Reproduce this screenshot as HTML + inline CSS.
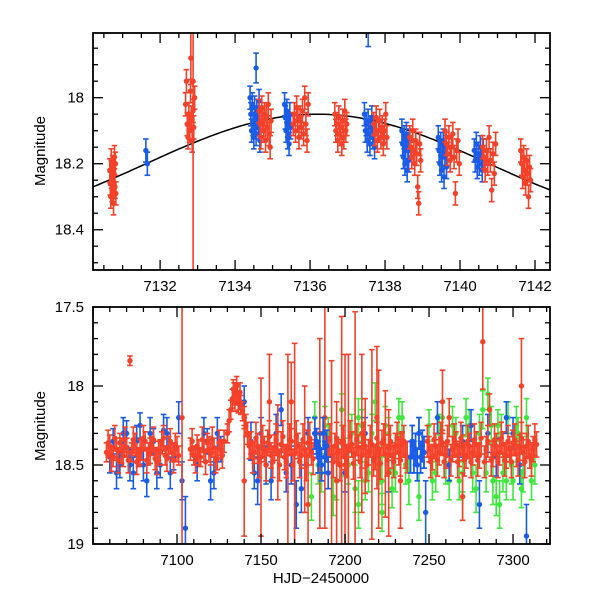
<!DOCTYPE html>
<html><head><meta charset="utf-8"><style>
body{margin:0;background:#fff}
svg{display:block;font-family:"Liberation Sans",sans-serif}
</style></head><body>
<svg id="c" width="600" height="600"></svg>
<script>
// ---- top panel data: [color, tStart, tEnd, mags]
const topClusters = [
 ['r',7130.66,7130.82,[18.22,18.26,18.30,18.19,18.24,18.28,18.21,18.25,18.32,18.23,18.18,18.27,18.20,18.29]],
 ['b',7131.62,7131.66,[18.16,18.20]],
 ['r',7132.68,7132.92,[18.02,17.95,18.08,18.12,18.05,18.10,17.98,18.06,18.13,18.04,18.09,18.00]],
 ['b',7134.40,7134.66,[18.00,18.05,18.10,18.02,18.08,18.12,18.03,18.07,18.11,18.04,18.06,18.09,18.01,18.13]],
 ['b',7134.56,7134.56,[17.91]],
 ['r',7134.64,7134.96,[18.04,18.08,18.12,18.03,18.07,18.10,18.05,18.13,18.06,18.09,18.02,18.11,18.15,18.07]],
 ['b',7135.32,7135.48,[18.02,18.06,18.10,18.04,18.12,18.08,18.14,18.05,18.09]],
 ['r',7135.55,7135.95,[18.08,18.05,18.10,18.03,18.07,18.12,18.06,18.09,18.04,18.11,18.00,18.08,18.13,18.02]],
 ['r',7136.66,7136.98,[18.05,18.10,18.08,18.13,18.06,18.11,18.09,18.14,18.07,18.12,18.04,18.10,18.08]],
 ['b',7137.45,7137.72,[18.05,18.10,18.08,18.13,18.07,18.11,18.14,18.09,18.06,18.12,18.10,18.15]],
 ['b',7137.55,7137.55,[17.80]],
 ['r',7137.70,7138.05,[18.08,18.11,18.06,18.13,18.10,18.07,18.12,18.09,18.14,18.10,18.05,18.12]],
 ['b',7138.45,7138.65,[18.10,18.14,18.18,18.12,18.20,18.16,18.11,18.22,18.15,18.19,18.13]],
 ['r',7138.66,7138.95,[18.12,18.15,18.18,18.10,18.16,18.20,18.13,18.17,18.27,18.32,18.14,18.19]],
 ['b',7139.42,7139.64,[18.12,18.16,18.20,18.14,18.22,18.18,18.13,18.24,18.17,18.15,18.21]],
 ['r',7139.60,7139.98,[18.10,18.14,18.17,18.12,18.19,18.15,18.11,18.18,18.29,18.16,18.13,18.20]],
 ['b',7140.38,7140.62,[18.16,18.19,18.14,18.21,18.17,18.20,18.15,18.18,18.22,18.16]],
 ['r',7140.60,7140.95,[18.15,18.18,18.22,18.16,18.20,18.12,18.19,18.28,18.17,18.23,18.14]],
 ['r',7141.62,7141.88,[18.16,18.20,18.24,18.18,18.22,18.26,18.19,18.23,18.30,18.21,18.25]]
];
const curvePeakT = 7136.2, curvePeakM = 18.05, curveAmp = 0.15, curvePeriod = 18.3;

// ---- bottom panel data: [t, mag, err]
const bGreen = [[7182,18.2,0.1],[7184,18.5,0.12],[7186,18.55,0.12],[7188,18.25,0.12],[7190,18.3,0.1],[7193,18.7,0.12],[7195,18.6,0.12],[7198,18.15,0.1],[7200,18.45,0.12],[7202,18.5,0.12],[7204,18.3,0.12],[7206,18.65,0.15],[7208,18.2,0.12],[7210,18.25,0.1],[7212,18.6,0.12],[7214,18.55,0.12],[7216,18.3,0.12],[7218,18.1,0.12],[7220,18.5,0.12],[7222,18.6,0.15],[7224,18.25,0.12],[7226,18.3,0.1],[7228,18.65,0.12],[7230,18.55,0.12],[7232,18.2,0.12],[7234,18.2,0.1],[7236,18.5,0.12],[7238,18.6,0.15],[7250,18.25,0.1],[7252,18.6,0.12],[7254,18.55,0.12],[7256,18.3,0.12],[7258,18.2,0.1],[7260,18.5,0.12],[7262,18.6,0.12],[7264,18.25,0.12],[7266,18.3,0.1],[7268,18.6,0.12],[7270,18.55,0.12],[7272,18.2,0.12],[7274,18.25,0.1],[7276,18.55,0.12],[7278,18.65,0.15],[7280,18.3,0.12],[7282,18.15,0.12],[7284,18.55,0.12],[7285,18.05,0.1],[7287,18.25,0.12],[7288,18.6,0.15],[7290,18.7,0.12],[7291,18.25,0.1],[7293,18.3,0.12],[7294,18.55,0.12],[7296,18.6,0.12],[7297,18.2,0.1],[7299,18.5,0.12],[7300,18.6,0.12],[7302,18.25,0.12],[7303,18.3,0.1],[7305,18.65,0.12],[7306,18.55,0.12],[7308,18.2,0.12],[7309,18.35,0.1],[7311,18.6,0.12],[7313,18.5,0.12],[7180,18.7,0.15],[7208,18.75,0.15],[7244,18.7,0.15],[7292,18.75,0.15],[7270,18.7,0.15],[7222,18.8,0.12]];
const bBlue = [[7060,18.45,0.1],[7062,18.35,0.08],[7064,18.55,0.1],[7066,18.5,0.08],[7068,18.3,0.1],[7070,18.3,0.08],[7072,18.5,0.1],[7074,18.55,0.1],[7076,18.35,0.1],[7078,18.25,0.08],[7080,18.5,0.1],[7082,18.6,0.1],[7084,18.3,0.1],[7086,18.35,0.08],[7088,18.55,0.1],[7090,18.5,0.08],[7092,18.28,0.1],[7094,18.3,0.1],[7096,18.55,0.1],[7098,18.45,0.08],[7101,18.2,0.1],[7103,18.6,0.12],[7105,18.9,0.2],[7112,18.5,0.1],[7116,18.3,0.1],[7118,18.35,0.08],[7120,18.6,0.12],[7122,18.55,0.1],[7124,18.3,0.1],[7126,18.4,0.08],[7140,18.1,0.1],[7144,18.35,0.12],[7146,18.55,0.1],[7148,18.6,0.15],[7150,18.3,0.1],[7153,18.5,0.12],[7156,18.6,0.12],[7159,18.3,0.12],[7162,18.15,0.1],[7165,18.55,0.12],[7168,18.5,0.12],[7171,18.75,0.15],[7174,18.65,0.15],[7178,18.3,0.1],
 [7182,18.3,0.1],[7183,18.35,0.08],[7184,18.45,0.1],[7185,18.4,0.1],[7186,18.5,0.1],[7187,18.3,0.1],[7188,18.45,0.1],[7189,18.38,0.1],[7190,18.55,0.1],[7200,18.55,0.12],[7212,18.3,0.1],[7226,18.55,0.12],
 [7239,18.45,0.1],[7240,18.35,0.1],[7241,18.45,0.1],[7242,18.4,0.1],[7243,18.5,0.1],[7244,18.3,0.1],[7245,18.45,0.1],[7246,18.38,0.1],[7247,18.42,0.1],[7248,18.8,0.2],[7255,18.2,0.1],[7262,18.5,0.1],[7270,18.35,0.1],[7275,18.25,0.1],[7280,18.75,0.15],[7285,18.3,0.12],[7290,18.45,0.12],[7296,18.2,0.1],[7300,18.3,0.1],[7304,18.5,0.12],[7308,18.95,0.2]];
const bRed = [[7058,18.42,0.06],[7060,18.38,0.07],[7062,18.45,0.06],[7064,18.40,0.07],[7066,18.36,0.06],[7068,18.44,0.07],[7070,18.39,0.06],[7072,17.84,0.03],[7073,18.42,0.06],[7075,18.37,0.07],[7077,18.45,0.06],[7079,18.40,0.07],[7081,18.35,0.06],[7083,18.43,0.07],[7085,18.38,0.06],[7087,18.46,0.07],[7089,18.41,0.06],[7091,18.36,0.07],[7093,18.44,0.06],[7095,18.39,0.07],[7097,18.42,0.06],[7099,18.37,0.07],[7101,18.44,0.06],[7103,18.2,0.9],[7108,18.40,0.07],[7110,18.44,0.06],[7112,18.38,0.07],[7114,18.45,0.06],[7116,18.41,0.07],[7118,18.36,0.06],[7120,18.43,0.07],[7122,18.39,0.06],[7124,18.46,0.07],[7126,18.40,0.06],[7128,18.35,0.07],[7130,18.30,0.06],[7131,18.22,0.07],[7132,18.15,0.06],[7133,18.08,0.06],[7134,18.04,0.06],[7135,18.06,0.06],[7136,18.05,0.06],[7137,18.09,0.06],[7138,18.12,0.06],[7139,18.16,0.06],[7140,18.20,0.07],[7141,18.25,0.07],[7142,18.30,0.07],[7144,18.36,0.07],[7146,18.42,0.07],[7148,18.38,0.08],[7150,18.45,0.5],[7152,18.40,0.08],[7154,18.36,0.08],[7156,18.44,0.08],[7158,18.39,0.08],[7160,18.42,0.3],[7162,18.37,0.08],[7164,18.45,0.08],[7166,18.40,0.6],[7168,18.35,0.08],[7170,18.43,0.7],[7172,18.38,0.08],[7174,18.44,0.08],[7176,18.40,0.4],[7178,18.36,0.08],[7180,18.42,0.08],[7190,18.40,0.08],[7192,18.44,0.6],[7194,18.38,0.08],[7196,18.42,0.08],[7198,18.36,0.8],[7200,18.45,0.08],[7202,18.40,0.6],[7204,18.37,0.08],[7206,18.43,0.9],[7208,18.39,0.08],[7210,18.44,0.08],[7212,18.38,0.3],[7214,18.42,0.08],[7216,18.37,0.6],[7218,18.45,0.08],[7220,18.40,0.5],[7222,18.36,0.08],[7224,18.43,0.4],[7226,18.39,0.08],[7228,18.44,0.08],[7230,18.38,0.08],[7232,18.42,0.08],[7234,18.37,0.08],[7236,18.44,0.08],[7250,18.40,0.08],[7252,18.45,0.08],[7254,18.38,0.08],[7256,18.42,0.08],[7258,18.36,0.08],[7260,18.44,0.08],[7262,18.20,0.12],[7264,18.40,0.08],[7266,18.37,0.08],[7268,18.43,0.08],[7270,18.39,0.08],[7272,18.44,0.08],[7274,18.38,0.08],[7276,18.42,0.08],[7278,18.37,0.08],[7280,18.44,0.08],[7282,17.72,0.3],[7284,18.40,0.08],[7286,18.15,0.1],[7288,18.43,0.08],[7290,18.38,0.08],[7292,18.42,0.08],[7294,18.37,0.08],[7296,18.44,0.08],[7298,18.40,0.08],[7300,18.36,0.08],[7302,18.43,0.08],[7304,18.39,0.08],[7306,18.42,0.08],[7308,18.38,0.08],[7310,18.44,0.08],[7312,18.40,0.08],[7314,18.37,0.08]];
const bRed2 = [[7059,18.36,0.08],[7061,18.46,0.08],[7063,18.33,0.08],[7065,18.47,0.08],[7067,18.41,0.08],[7069,18.34,0.08],[7071,18.47,0.08],[7074,18.34,0.08],[7076,18.48,0.08],[7078,18.42,0.08],[7080,18.33,0.08],[7082,18.47,0.08],[7084,18.41,0.08],[7086,18.34,0.08],[7088,18.48,0.08],[7090,18.42,0.08],[7092,18.33,0.08],[7094,18.46,0.08],[7096,18.35,0.08],[7098,18.47,0.08],[7100,18.40,0.08],[7109,18.35,0.08],[7111,18.47,0.08],[7113,18.42,0.08],[7115,18.34,0.08],[7117,18.48,0.08],[7119,18.40,0.08],[7121,18.34,0.08],[7123,18.47,0.08],[7125,18.36,0.08],[7127,18.44,0.08],[7133.5,18.02,0.06],[7134.5,18.10,0.06],[7135.5,18.00,0.06],[7136.5,18.11,0.06],[7137.5,18.04,0.06],[7143,18.38,0.08],[7145,18.45,0.1],[7147,18.33,0.1],[7149,18.48,0.1],[7151,18.35,0.1],[7153,18.5,0.1],[7155,18.32,0.1],[7157,18.48,0.1],[7159,18.34,0.1],[7161,18.5,0.1],[7163,18.32,0.1],[7165,18.48,0.1],[7167,18.34,0.1],[7169,18.5,0.1],[7171,18.32,0.1],[7173,18.48,0.1],[7175,18.34,0.1],[7177,18.5,0.1],[7179,18.33,0.1],[7181,18.46,0.1],[7191,18.34,0.1],[7193,18.48,0.1],[7195,18.33,0.1],[7197,18.5,0.1],[7199,18.35,0.1],[7201,18.48,0.1],[7203,18.32,0.1],[7205,18.49,0.1],[7207,18.34,0.1],[7209,18.48,0.1],[7211,18.33,0.1],[7213,18.5,0.1],[7215,18.35,0.1],[7217,18.47,0.1],[7219,18.33,0.1],[7221,18.49,0.1],[7223,18.34,0.1],[7225,18.47,0.1],[7227,18.35,0.1],[7229,18.48,0.1],[7231,18.33,0.1],[7233,18.47,0.1],[7235,18.35,0.1],[7237,18.45,0.1],[7249,18.35,0.1],[7251,18.48,0.1],[7253,18.34,0.1],[7255,18.47,0.1],[7257,18.33,0.1],[7259,18.48,0.1],[7261,18.35,0.1],[7263,18.47,0.1],[7265,18.34,0.1],[7267,18.48,0.1],[7269,18.33,0.1],[7271,18.47,0.1],[7273,18.35,0.1],[7275,18.48,0.1],[7277,18.34,0.1],[7279,18.47,0.1],[7281,18.33,0.1],[7283,18.48,0.1],[7285,18.35,0.1],[7287,18.47,0.1],[7289,18.34,0.1],[7291,18.48,0.1],[7293,18.33,0.1],[7295,18.47,0.1],[7297,18.35,0.1],[7299,18.48,0.1],[7301,18.34,0.1],[7303,18.47,0.1],[7305,18.33,0.1],[7307,18.48,0.1],[7309,18.35,0.1],[7311,18.47,0.1],[7313,18.34,0.1],
 [7168,18.1,0.25],[7185,18.3,0.6],[7188,18.2,0.7],[7195,18.6,0.5],[7200,18.5,0.7],[7210,18.3,0.5],[7219,18.2,0.45],[7226,18.55,0.4],[7233,18.6,0.3],[7258,18.1,0.2],[7270,18.7,0.15],[7305,18.0,0.3],[7140,18.6,0.35],[7155,18.1,0.3],[7178,18.75,0.3]];

const COL={r:'#f5402a',b:'#1a5ce8',g:'#3ee83e'};
const NS='http://www.w3.org/2000/svg';
const svg=document.getElementById('c');
function el(tag,attrs,parent){const e=document.createElementNS(NS,tag);for(const k in attrs)e.setAttribute(k,attrs[k]);(parent||svg).appendChild(e);return e;}

function panel(name,L,T,R,B,x0,x1,y0,y1){
  const g=el('g',{});
  
  
  const clipId=name+'-clip';
  const cp=el('clipPath',{id:clipId},g);el('rect',{x:L,y:T,width:R-L,height:B-T},cp);
  const sx=t=>L+(t-x0)/(x1-x0)*(R-L), sy=m=>T+(m-y0)/(y1-y0)*(B-T);
  const plot=el('g',{'clip-path':'url(#'+clipId+')'},g);
  return {g,plot,sx,sy,L,T,R,B};
}
function errpt(p,t,m,e,c,name){
  const x=p.sx(t),y1=p.sy(m-e),y2=p.sy(m+e),y=p.sy(m);
  const g=el('g',{stroke:COL[c],fill:COL[c],'stroke-width':1.6},p.plot);
  
  
  el('line',{x1:x,y1:y1,x2:x,y2:y2},g);
  el('line',{x1:x-2.8,y1:y1,x2:x+2.8,y2:y1},g);
  el('line',{x1:x-2.8,y1:y2,x2:x+2.8,y2:y2},g);
  el('circle',{cx:x,cy:y,r:2.7,stroke:'none'},g);
}
function axes(p,xs,xminor,xlab,ys,yminor,ylab,x0,x1,y0,y1){
  const g=el('g',{stroke:'#000','stroke-width':1.3,fill:'none'},p.g);
  
  
  el('rect',{x:p.L,y:p.T,width:p.R-p.L,height:p.B-p.T,'stroke-width':1.8},g);
  const eps=1e-6;
  for(let v=Math.ceil(x0/xminor)*xminor;v<=x1+eps;v+=xminor){
    const maj=Math.abs(v/xs-Math.round(v/xs))<1e-4, len=maj?10:5, x=p.sx(v);
    el('line',{x1:x,y1:p.B,x2:x,y2:p.B-len},g);el('line',{x1:x,y1:p.T,x2:x,y2:p.T+len},g);
  }
  for(let v=Math.ceil((y0-eps)/yminor)*yminor;v<=y1+eps;v+=yminor){
    const maj=Math.abs(v/ys-Math.round(v/ys))<1e-4, len=maj?10:5, y=p.sy(v);
    el('line',{x1:p.L,y1:y,x2:p.L+len,y2:y},g);el('line',{x1:p.R,y1:y,x2:p.R-len,y2:y},g);
  }
  xlab.forEach(v=>{const t=el('text',{x:p.sx(v),y:p.B+21,'text-anchor':'middle','font-size':15,fill:'#000'},p.g);t.textContent=v;
    });
  ylab.forEach(v=>{const t=el('text',{x:p.L-9,y:p.sy(v)+5,'text-anchor':'end','font-size':15,fill:'#000'},p.g);t.textContent=v;
    });
}

// ---- TOP
const tx0=7130.21,tx1=7142.4,ty0=17.804,ty1=18.522;
const P1=panel('top-panel',93,33,550,270,tx0,tx1,ty0,ty1);
let d='';
for(let i=0;i<=200;i++){const t=tx0+(tx1-tx0)*i/200;const m=curvePeakM+curveAmp*(1-Math.cos(2*Math.PI*(t-curvePeakT)/curvePeriod));d+=(i?'L':'M')+P1.sx(t).toFixed(1)+' '+P1.sy(m).toFixed(1);}
const cv=el('path',{d:d,stroke:'#000','stroke-width':1.5,fill:'none'},P1.plot);


topClusters.forEach(cl=>{const [c,t0,t1,ms]=cl;ms.forEach((m,i)=>{const t=ms.length>1?t0+(t1-t0)*i/(ms.length-1):t0;
  let e=0.035; if(c==='b'&&m<17.95)e=0.045; errpt(P1,t,m,e,c,'top-point');});});
errpt(P1,7132.88,17.95,0.6,'r','top-point-outlier');
errpt(P1,7132.82,17.88,0.08,'r','top-point-outlier');
axes(P1,2,0.5,[7132,7134,7136,7138,7140,7142],0.2,0.05,[18,18.2,18.4],tx0,tx1,ty0,ty1);

// ---- BOTTOM
const bx0=7050,bx1=7322,by0=17.5,by1=19;
const P2=panel('bottom-panel',93,307,550,544,bx0,bx1,by0,by1);
bGreen.forEach(p=>errpt(P2,p[0],p[1],p[2],'g','green-point'));
bBlue.forEach(p=>errpt(P2,p[0],p[1],p[2],'b','blue-point'));
bRed2.forEach(p=>errpt(P2,p[0],p[1],p[2],'r','red-point'));
bRed.forEach(p=>errpt(P2,p[0],p[1],p[2],'r','red-point'));
bBlue.filter(p=>(p[0]>=7182&&p[0]<=7190)||(p[0]>=7239&&p[0]<=7247)).forEach(p=>errpt(P2,p[0],p[1],p[2],'b','blue-point'));
axes(P2,50,10,[7100,7150,7200,7250,7300],0.5,0.1,[17.5,18,18.5,19],bx0,bx1,by0,by1);

[[151],[426]].forEach((a,i)=>{const t=el('text',{x:0,y:0,transform:'translate(45,'+a[0]+') rotate(-90)','text-anchor':'middle','font-size':15,fill:'#000'});t.textContent='Magnitude';
  });
const xt=el('text',{x:321,y:583,'text-anchor':'middle','font-size':15,fill:'#000'});xt.textContent='HJD\u22122450000';


</script>
</body></html>
